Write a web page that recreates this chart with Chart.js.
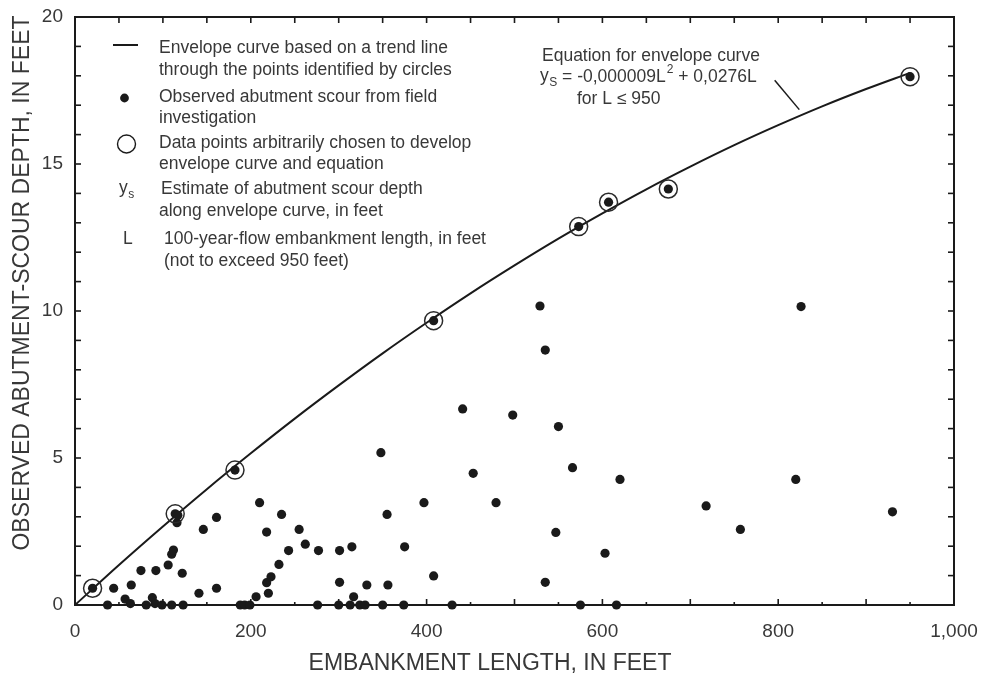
<!DOCTYPE html>
<html lang="en">
<head>
<meta charset="UTF-8">
<title>Abutment scour depth and embankment length</title>
<script src="https://cdn.jsdelivr.net/npm/chart.js@4.4.1/dist/chart.umd.min.js"></script>
<style>
  html, body { margin: 0; padding: 0; background: #fff; }
  canvas { display: block; }
</style>
</head>
<body>
<canvas id="chart" width="987" height="677"></canvas>
<script>
// field observations: embankment length (ft) and observed scour depth (ft)
const obsLength = [20, 37, 44, 57, 63, 64, 75, 81, 88, 91, 92, 99, 106, 110, 110, 112, 114, 116, 117,
  122, 123, 141, 146, 161, 161, 182, 188, 193, 199, 206, 210, 218, 218, 220, 223, 232, 235, 243,
  255, 262, 276, 277, 300, 301, 301, 313, 315, 317, 324, 330, 332, 348, 350, 355, 356, 374, 375,
  397, 408, 408, 429, 441, 453, 479, 498, 529, 535, 535, 547, 550, 566, 573, 575, 603, 607, 616,
  620, 675, 718, 757, 820, 826, 930, 950];
const obsDepth = [0.57, 0, 0.57, 0.2, 0.05, 0.68, 1.17, 0, 0.25, 0.05, 1.17, 0, 1.36, 0, 1.73, 1.87, 3.1, 2.8, 3.05,
  1.08, 0, 0.4, 2.57, 2.98, 0.57, 4.59, 0, 0, 0, 0.28, 3.48, 2.48, 0.76, 0.4, 0.96, 1.38, 3.08, 1.85,
  2.57, 2.07, 0, 1.85, 0, 1.85, 0.77, 0, 1.98, 0.28, 0, 0, 0.68, 5.18, 0, 3.08, 0.68, 0, 1.98,
  3.48, 0.99, 9.67, 0, 6.67, 4.48, 3.48, 6.46, 10.17, 8.67, 0.77, 2.47, 6.07, 4.67, 12.87, 0, 1.76, 13.7, 0,
  4.27, 14.15, 3.37, 2.57, 4.27, 10.15, 3.17, 17.97];

// points picked to build the envelope curve (circled)
const pickedLength = [20, 114, 182, 408, 573, 607, 675, 950];
const pickedDepth = [0.57, 3.1, 4.59, 9.67, 12.87, 13.7, 14.15, 17.97];

// envelope curve, ys = -0.000009 L^2 + 0.0276 L, sampled every 50 ft
const curveLength = [0, 50, 100, 150, 200, 250, 300, 350, 400, 450, 500, 550, 600, 650, 700, 750, 800, 850, 900, 950];
const curveDepth = [0, 1.36, 2.67, 3.94, 5.16, 6.34, 7.47, 8.56, 9.60, 10.60, 11.55, 12.46, 13.32, 14.14, 14.91,
  15.64, 16.32, 16.96, 17.55, 18.10];

const xLabelValues = [0, 200, 400, 600, 800, 1000];
const yLabelValues = [0, 5, 10, 15, 20];

const FONT = "'Liberation Sans', Arial, Helvetica, sans-serif";
const INK = '#1a1a1a';
const TEXT = '#383838';

function pts(xs, ys) {
  return xs.map((v, i) => ({ x: v, y: ys[i] }));
}

function seg(ctx, x1, y1, x2, y2) {
  ctx.beginPath();
  ctx.moveTo(x1, y1);
  ctx.lineTo(x2, y2);
  ctx.stroke();
}

// "y" with a small subscript, returns the x where the next text starts
function ySub(ctx, x, y, sub, size) {
  ctx.font = size + 'px ' + FONT;
  ctx.fillText('y', x, y);
  let w = ctx.measureText('y').width;
  ctx.font = Math.round(size * 0.68) + 'px ' + FONT;
  ctx.fillText(sub, x + w + 0.5, y + size * 0.38);
  return x + w + 0.5 + ctx.measureText(sub).width;
}

// box, inward ticks, axis titles
const frame = {
  id: 'frame',
  beforeDatasetsDraw(chart) {
    const { ctx, chartArea: a, scales: { x, y } } = chart;
    ctx.save();
    ctx.strokeStyle = INK;
    ctx.lineWidth = 2;
    ctx.strokeRect(a.left, a.top, a.right - a.left, a.bottom - a.top);
    ctx.lineWidth = 1.6;
    for (let v = 50; v < 1000; v += 50) {
      const px = x.getPixelForValue(v);
      seg(ctx, px, a.bottom, px, a.bottom - (v % 100 === 0 ? 6 : 3));
      seg(ctx, px, a.top, px, a.top + 6);
    }
    for (let v = 1; v < 20; v++) {
      const py = y.getPixelForValue(v);
      seg(ctx, a.left, py, a.left + 6, py);
      seg(ctx, a.right, py, a.right - 6, py);
    }
    ctx.fillStyle = TEXT;
    ctx.textAlign = 'center';
    ctx.textBaseline = 'middle';
    ctx.font = '23px ' + FONT;
    ctx.fillText('EMBANKMENT LENGTH, IN FEET', 490, 664);
    ctx.translate(23, 283);
    ctx.rotate(-Math.PI / 2);
    ctx.fillText('OBSERVED ABUTMENT-SCOUR DEPTH, IN FEET', 0, 0);
    ctx.restore();
  },
  afterDatasetsDraw(chart) {
    const { ctx, scales: { x, y } } = chart;
    ctx.save();
    ctx.fillStyle = TEXT;
    ctx.strokeStyle = INK;
    ctx.textBaseline = 'middle';
    ctx.textAlign = 'left';
    const fs = 17.5;
    ctx.font = fs + 'px ' + FONT;

    // key
    ctx.lineWidth = 2;
    seg(ctx, 113, 45, 138, 45);
    ctx.fillText('Envelope curve based on a trend line', 159, 48);
    ctx.fillText('through the points identified by circles', 159, 70);
    ctx.fillStyle = INK;
    ctx.beginPath();
    ctx.arc(124.5, 98, 4.4, 0, Math.PI * 2);
    ctx.fill();
    ctx.fillStyle = TEXT;
    ctx.fillText('Observed abutment scour from field', 159, 97);
    ctx.fillText('investigation', 159, 118);
    ctx.lineWidth = 1.4;
    ctx.beginPath();
    ctx.arc(126.5, 144, 9, 0, Math.PI * 2);
    ctx.stroke();
    ctx.fillText('Data points arbitrarily chosen to develop', 159, 143);
    ctx.fillText('envelope curve and equation', 159, 164);
    ySub(ctx, 119, 188, 's', fs);
    ctx.font = fs + 'px ' + FONT;
    ctx.fillText('Estimate of abutment scour depth', 161, 189);
    ctx.fillText('along envelope curve, in feet', 159, 211);
    ctx.fillText('L', 123, 239);
    ctx.fillText('100-year-flow embankment length, in feet', 164, 239);
    ctx.fillText('(not to exceed 950 feet)', 164, 261);

    // equation note with leader to the curve
    ctx.fillText('Equation for envelope curve', 542, 56);
    let cx = ySub(ctx, 540, 76, 'S', fs);
    ctx.font = fs + 'px ' + FONT;
    const part1 = ' = -0,000009L';
    ctx.fillText(part1, cx, 77);
    cx += ctx.measureText(part1).width;
    ctx.font = '12px ' + FONT;
    ctx.fillText('2', cx + 1, 70);
    cx += ctx.measureText('2').width + 1;
    ctx.font = fs + 'px ' + FONT;
    ctx.fillText(' + 0,0276L', cx, 77);
    ctx.fillText('for L \u2264 950', 577, 99);
    ctx.lineWidth = 1.5;
    seg(ctx, x.getPixelForValue(796), y.getPixelForValue(17.85),
      x.getPixelForValue(824), y.getPixelForValue(16.85));
    ctx.restore();
  }
};

new Chart(document.getElementById('chart'), {
  type: 'scatter',
  data: {
    datasets: [
      {
        label: 'Envelope curve',
        data: pts(curveLength, curveDepth),
        showLine: true,
        borderColor: INK,
        borderWidth: 2,
        pointRadius: 0,
        cubicInterpolationMode: 'monotone',
        order: 3
      },
      {
        label: 'Observed abutment scour',
        data: pts(obsLength, obsDepth),
        backgroundColor: INK,
        borderWidth: 0,
        pointRadius: 4.6,
        clip: false,
        order: 2
      },
      {
        label: 'Chosen data points',
        data: pts(pickedLength, pickedDepth),
        backgroundColor: 'rgba(0,0,0,0)',
        borderColor: '#2a2a2a',
        borderWidth: 1.5,
        pointRadius: 9,
        clip: false,
        order: 1
      }
    ]
  },
  options: {
    responsive: false,
    animation: false,
    layout: { padding: { top: 17, right: 33, left: 0, bottom: 0 } },
    plugins: { legend: { display: false }, tooltip: { enabled: false } },
    scales: {
      x: {
        type: 'linear',
        min: 0,
        max: 1000,
        // fixed band for labels; label overhang must not shrink the plot box
        afterFit: s => { s.height = 72; s.paddingLeft = 0; s.paddingRight = 0; },
        afterBuildTicks: s => { s.ticks = xLabelValues.map(v => ({ value: v })); },
        grid: { display: false, drawTicks: false },
        border: { display: false },
        ticks: {
          autoSkip: false,
          maxRotation: 0,
          padding: 15,
          color: TEXT,
          font: { family: FONT, size: 19 },
          callback: v => v.toLocaleString('en-US')
        }
      },
      y: {
        type: 'linear',
        min: 0,
        max: 20,
        // keep the tick label padding from pushing the plot box down
        afterFit: s => { s.width = 75; s.paddingTop = 0; s.paddingBottom = 0; },
        afterBuildTicks: s => { s.ticks = yLabelValues.map(v => ({ value: v })); },
        grid: { display: false, drawTicks: false },
        border: { display: false },
        ticks: {
          padding: 12,
          color: TEXT,
          font: { family: FONT, size: 19 }
        }
      }
    }
  },
  plugins: [frame]
});
</script>
</body>
</html>
